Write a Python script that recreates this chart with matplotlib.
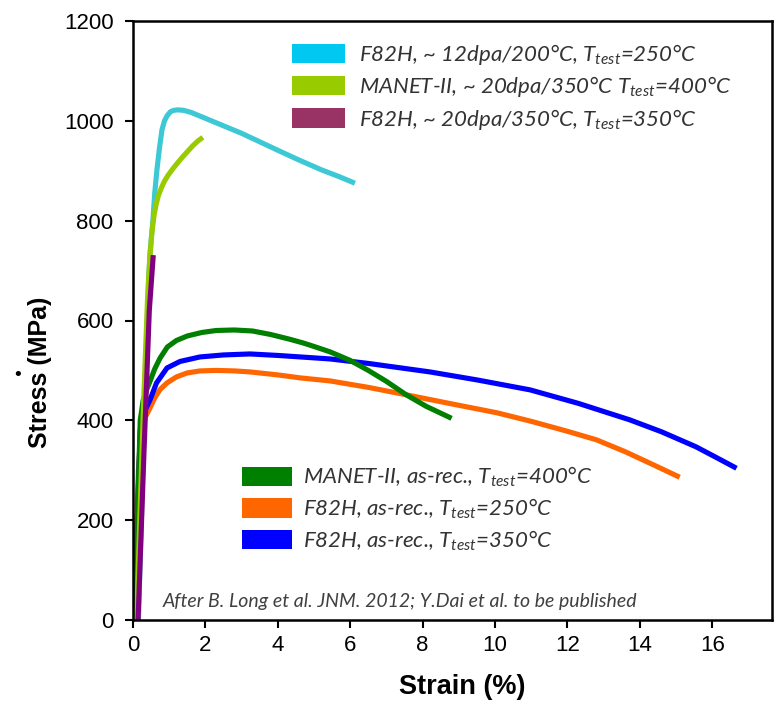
import matplotlib
matplotlib.use("Agg")
import matplotlib.pyplot as plt
from matplotlib.patches import Patch

plt.rcParams['font.family'] = ['Liberation Sans', 'DejaVu Sans']
plt.rcParams['mathtext.fontset'] = 'custom'
plt.rcParams['mathtext.it'] = 'Lato:italic'
plt.rcParams['mathtext.rm'] = 'Lato:italic'

# ---- data (strain %, stress MPa) ----
cyan_x = [0.15, 0.25, 0.35, 0.43, 0.47, 0.55, 0.60, 0.66, 0.73, 0.80, 0.87, 0.94, 1.03,
          1.12, 1.24, 1.40, 1.60, 1.80, 2.00, 2.50, 3.00, 3.50, 4.00, 4.60, 5.20, 5.70, 6.13]
cyan_y = [0, 250, 500, 680, 735, 801, 855, 901, 945, 982, 1000, 1010, 1018,
          1021, 1022, 1021, 1017, 1011, 1005, 990, 975, 958, 941, 921, 902, 888, 875]

lime_x = [0.10, 0.20, 0.30, 0.40, 0.46, 0.52, 0.58, 0.64, 0.70, 0.78, 0.86, 0.96, 1.08,
          1.20, 1.35, 1.50, 1.65, 1.80, 1.93]
lime_y = [0, 230, 450, 640, 720, 775, 810, 833, 850, 865, 878, 890, 902,
          913, 926, 938, 950, 960, 967]

purple_x = [0.14, 0.30, 0.45, 0.56]
purple_y = [0, 330, 620, 731]

green_x = [0.05, 0.12, 0.20, 0.28, 0.38, 0.48, 0.60, 0.75, 0.95, 1.20, 1.50, 1.90, 2.30,
           2.80, 3.30, 3.80, 4.30, 4.70, 5.00, 5.45, 6.00, 6.50, 7.00, 7.55, 8.10, 8.80]
green_y = [0, 200, 400, 440, 462, 480, 503, 525, 547, 560, 569, 576, 580,
           581, 579, 572, 563, 555, 548, 537, 520, 500, 478, 451, 428, 404]

orange_x = [0.00, 0.08, 0.15, 0.22, 0.30, 0.40, 0.47, 0.60, 0.75, 0.94, 1.20, 1.50, 1.85,
            2.30, 2.80, 3.23, 4.00, 4.62, 5.44, 6.50, 7.56, 8.80, 10.06, 11.00, 12.00,
            12.80, 13.60, 14.40, 15.10]
orange_y = [0, 150, 300, 370, 400, 415, 425, 445, 462, 475, 487, 495, 499,
            500, 499, 497, 491, 485, 479, 466, 451, 433, 415, 398, 378,
            361, 337, 310, 286]

blue_x = [0.05, 0.12, 0.20, 0.30, 0.47, 0.65, 0.94, 1.30, 1.85, 2.50, 3.23, 4.00, 4.62,
          5.44, 6.50, 8.20, 9.50, 10.97, 12.30, 13.72, 14.60, 15.55, 16.10, 16.67]
blue_y = [0, 200, 380, 415, 441, 475, 505, 518, 527, 531, 533, 530, 527,
          523, 514, 497, 481, 461, 434, 401, 377, 347, 326, 304]

irr_labels = [
    r'F82H, ~ 12dpa/200°C, $T_{test}$=250°C',
    r'MANET-II, ~ 20dpa/350°C $T_{test}$=400°C',
    r'F82H, ~ 20dpa/350°C, $T_{test}$=350°C',
]
rec_labels = [
    r'MANET-II, as-rec., $T_{test}$=400°C',
    r'F82H, as-rec., $T_{test}$=250°C',
    r'F82H, as-rec., $T_{test}$=350°C',
]
irr_patch_colors = ['#00C8F0', '#99CC00', '#993366']
rec_patch_colors = ['#008000', '#FF6600', '#0000FF']

x_ticks = [0, 2, 4, 6, 8, 10, 12, 14, 16]
y_ticks = [0, 200, 400, 600, 800, 1000, 1200]

fig = plt.figure(figsize=(7.78, 7.04), dpi=100)
ax = fig.add_axes([133/778, 84/704, (772-133)/778, (683-84)/704])

lw = 3.7
ax.plot(orange_x, orange_y, color='#FF6600', lw=lw, solid_capstyle='butt')
ax.plot(blue_x, blue_y, color='#0000FF', lw=lw, solid_capstyle='butt')
ax.plot(green_x, green_y, color='#007F00', lw=lw, solid_capstyle='butt')
ax.plot(cyan_x, cyan_y, color='#3CC8D5', lw=lw, solid_capstyle='butt')
ax.plot(lime_x, lime_y, color='#99CC00', lw=lw, solid_capstyle='butt')
ax.plot(purple_x, purple_y, color='#800080', lw=lw, solid_capstyle='butt')

ax.set_xlim(0, 17.65)
ax.set_ylim(0, 1200)
ax.set_xticks(x_ticks)
ax.set_yticks(y_ticks)
ax.tick_params(labelsize=16, length=6, width=1.5, direction='out')
ax.tick_params(axis='x', pad=5)
ax.tick_params(axis='y', pad=8)
for s in ax.spines.values():
    s.set_linewidth(1.8)

ax.set_xlabel('Strain (%)', fontsize=19.5, fontweight='bold')
ax.set_ylabel('Stress (MPa)', fontsize=18, fontweight='bold')
ax.xaxis.set_label_coords((462-133)/639, (620-687)/599)
ax.yaxis.set_label_coords((40-133)/639, (620-372)/599)
ax.xaxis.label.set_va('center')
ax.yaxis.label.set_va('center')

leg_font = {'family': 'Lato', 'style': 'italic', 'size': 16}
h1 = [Patch(facecolor=c, edgecolor='none') for c in irr_patch_colors]
leg1 = ax.legend(h1, irr_labels, loc='upper left', bbox_to_anchor=(292/778, 1 - 42/704),
                 bbox_transform=fig.transFigure, frameon=False, prop=leg_font,
                 handlelength=2.4, handleheight=0.95, handletextpad=0.6,
                 labelspacing=0.33, borderpad=0, borderaxespad=0, labelcolor='#333333')
ax.add_artist(leg1)
h2 = [Patch(facecolor=c, edgecolor='none') for c in rec_patch_colors]
ax.legend(h2, rec_labels, loc='upper left', bbox_to_anchor=(242/778, 1 - 465/704),
          bbox_transform=fig.transFigure, frameon=False, prop=leg_font,
          handlelength=2.25, handleheight=0.95, handletextpad=0.5,
          labelspacing=0.33, borderpad=0, borderaxespad=0, labelcolor='#333333')

ax.text(163/778, 1 - 602/704, 'After B. Long et al. JNM. 2012; Y.Dai et al. to be published',
        transform=fig.transFigure, fontsize=14, family='Lato', style='italic',
        color='#404040', va='center', ha='left')

fig.text(18/778, 1 - 375/704, '•', fontsize=14, color='black', ha='center', va='center')

fig.savefig('out.png', dpi=100)
